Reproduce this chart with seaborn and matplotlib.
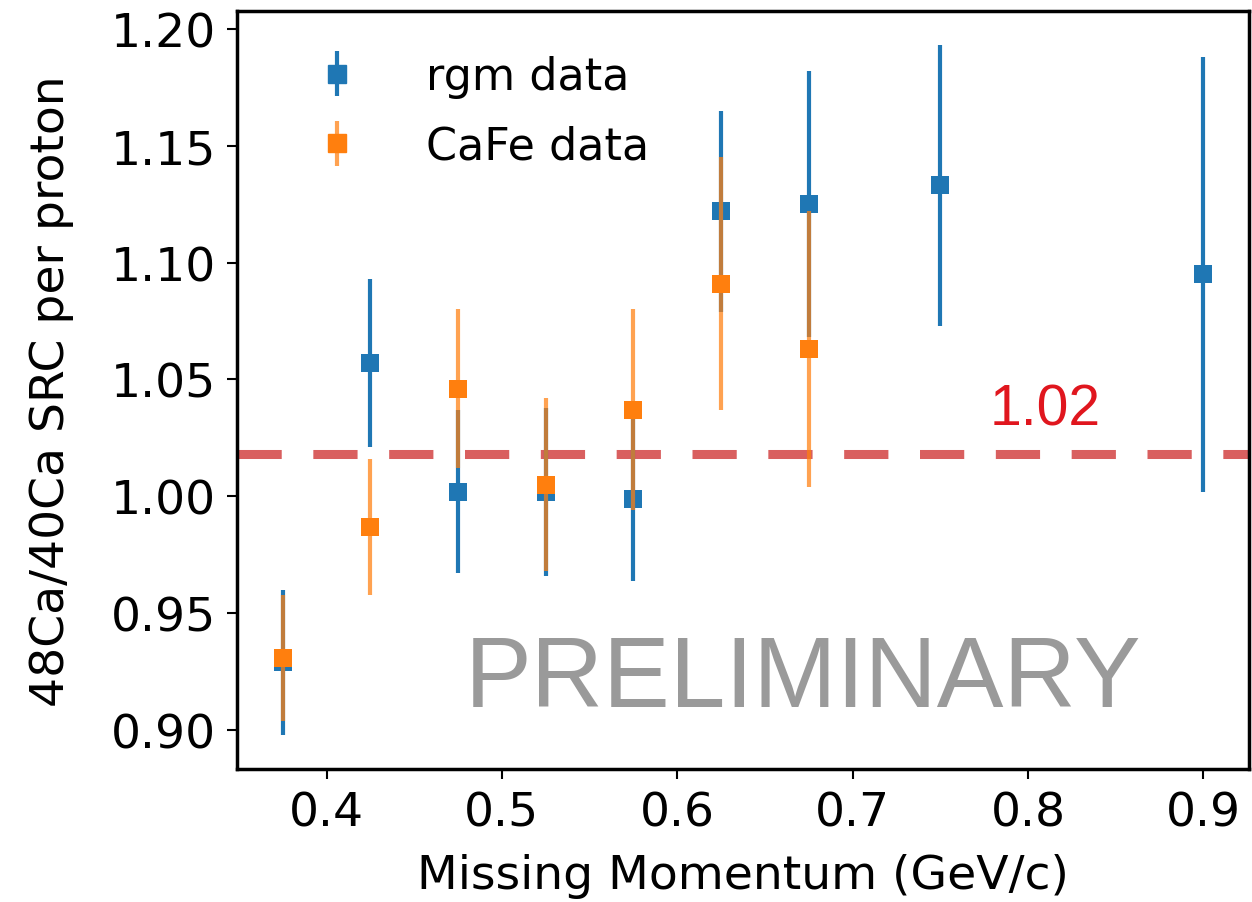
import matplotlib
matplotlib.use("Agg")
import matplotlib.pyplot as plt
import seaborn as sns
import numpy as np
import pandas as pd
from matplotlib.legend_handler import HandlerTuple
from matplotlib.lines import Line2D

# ---- data ----
rgm_x = [0.375, 0.425, 0.475, 0.525, 0.575, 0.625, 0.675, 0.75, 0.9]
rgm_y = [0.929, 1.057, 1.002, 1.002, 0.999, 1.122, 1.125, 1.133, 1.095]
rgm_err = [0.031, 0.036, 0.035, 0.036, 0.035, 0.043, 0.057, 0.060, 0.093]

cafe_x = [0.375, 0.425, 0.475, 0.525, 0.575, 0.625, 0.675]
cafe_y = [0.931, 0.987, 1.046, 1.005, 1.037, 1.091, 1.063]
cafe_err = [0.027, 0.029, 0.034, 0.037, 0.043, 0.054, 0.059]

ref_value = 1.018
ref_label = "1.02"
series_labels = ["rgm data", "CaFe data"]
x_label = "Missing Momentum (GeV/c)"
y_label = "48Ca/40Ca SRC per proton"
watermark = "PRELIMINARY"

sns.set_theme(style="ticks")
plt.rcParams['font.family'] = ['DejaVu Sans']
plt.rcParams.update({"text.color": "black", "axes.labelcolor": "black",
                     "xtick.color": "black", "ytick.color": "black"})

fig = plt.figure(figsize=(12.52, 9.03), dpi=100)
ax = fig.add_axes([0.189, 0.147, 0.809, 0.840])

blue = "#1f77b4"
orange = "#ff7f0e"

df_rgm = pd.DataFrame({"x": rgm_x, "y": rgm_y})
df_cafe = pd.DataFrame({"x": cafe_x, "y": cafe_y})

eb1 = ax.errorbar(rgm_x, rgm_y, yerr=rgm_err, fmt='none', ecolor=blue,
                  elinewidth=3.0, zorder=2)
sns.scatterplot(data=df_rgm, x="x", y="y", marker='s', s=175, color=blue,
                linewidth=0, ax=ax, zorder=3, legend=False)
eb2 = ax.errorbar(cafe_x, cafe_y, yerr=cafe_err, fmt='none', ecolor=orange,
                  elinewidth=3.0, alpha=0.72, zorder=4)
sns.scatterplot(data=df_cafe, x="x", y="y", marker='s', s=175, color=orange,
                linewidth=0, ax=ax, zorder=5, legend=False)

ax.axhline(ref_value, color="#d95f5f", linewidth=6.5, dashes=(4.9, 3.5),
           zorder=1)
ax.text(0.81, ref_value + 0.0075, ref_label, color="#e0161e", fontsize=41,
        family="Liberation Sans", ha='center', va='bottom')
ax.text(0.6715, 0.9215, watermark, color="#9a9a9a", fontsize=72,
        family="Liberation Sans", ha='center', va='center', zorder=0)

ax.set_xticks([0.4, 0.5, 0.6, 0.7, 0.8, 0.9])
ax.set_yticks([0.90, 0.95, 1.00, 1.05, 1.10, 1.15, 1.20])
ax.set_yticklabels(["0.90", "0.95", "1.00", "1.05", "1.10", "1.15", "1.20"])
ax.tick_params(labelsize=34, length=7, width=1.5, direction='out', pad=8)
ax.set_xlabel(x_label, fontsize=34, labelpad=13)
ax.set_ylabel(y_label, fontsize=34, labelpad=26)
for s in ax.spines.values():
    s.set_visible(True)
    s.set_linewidth(2.5)
    s.set_color("black")

m1 = Line2D([], [], marker='s', color=blue, linestyle='none', markersize=13)
m2 = Line2D([], [], marker='s', color=orange, linestyle='none', markersize=13)
ax.legend([(eb1, m1), (eb2, m2)], series_labels, loc='upper left',
          fontsize=32, frameon=False, handler_map={tuple: HandlerTuple(ndivide=1)},
          handlelength=1.6, handletextpad=1.2, borderaxespad=0.6,
          labelspacing=0.6, bbox_to_anchor=(0.02, 1.0))

fig.savefig("out.png", dpi=100)
